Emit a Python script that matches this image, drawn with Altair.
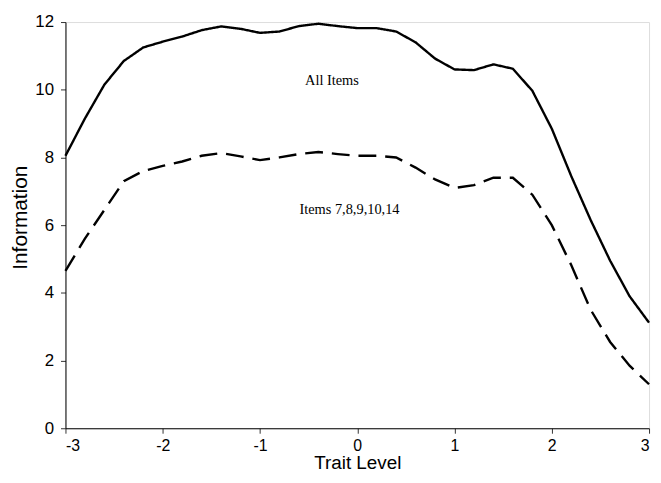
import altair as alt
import pandas as pd

trait = [-3.0, -2.8, -2.6, -2.4, -2.2, -2.0, -1.8, -1.6, -1.4, -1.2, -1.0,
         -0.8, -0.6, -0.4, -0.2, 0.0, 0.2, 0.4, 0.6, 0.8, 1.0,
         1.2, 1.4, 1.6, 1.8, 2.0, 2.2, 2.4, 2.6, 2.8, 3.0]
all_items = [8.05, 9.15, 10.15, 10.85, 11.25, 11.42, 11.57, 11.76, 11.87, 11.8, 11.68,
             11.72, 11.88, 11.95, 11.88, 11.82, 11.82, 11.72, 11.4, 10.92, 10.6,
             10.58, 10.75, 10.62, 9.97, 8.85, 7.45, 6.15, 4.95, 3.9, 3.12]
items_sub = [4.65, 5.6, 6.45, 7.3, 7.6, 7.75, 7.88, 8.05, 8.13, 8.03, 7.92,
             8.0, 8.1, 8.16, 8.1, 8.05, 8.05, 8.0, 7.7, 7.35, 7.1,
             7.18, 7.4, 7.4, 6.9, 6.0, 4.82, 3.5, 2.55, 1.85, 1.3]
series_names = ["All Items", "Items 7,8,9,10,14"]

label_text = ["All Items", "Items 7,8,9,10,14"]
label_x = [-0.26, -0.08]
label_y = [10.25, 6.45]

rows = []
for t, a, b in zip(trait, all_items, items_sub):
    rows.append({"trait": t, "info": a, "series": series_names[0]})
    rows.append({"trait": t, "info": b, "series": series_names[1]})
df = pd.DataFrame(rows)
labels = pd.DataFrame({"text": label_text, "x": label_x, "y": label_y})

xscale = alt.Scale(domain=[-3, 3], nice=False, zero=False)
yscale = alt.Scale(domain=[0, 12], nice=False)

lines = alt.Chart(df).mark_line(color="black", strokeWidth=2.4).encode(
    x=alt.X("trait:Q", scale=xscale,
            axis=alt.Axis(title="Trait Level", values=[-3, -2, -1, 0, 1, 2, 3],
                          labelExpr="'' + datum.value",
                          labelFontSize=16, titleFontSize=19,
                          titleFontWeight="normal", tickSize=5, labelPadding=4,
                          titlePadding=1, grid=False, domainColor="black",
                          tickColor="#333333", labelColor="black", titleColor="black",
                          labelFont="Liberation Sans", titleFont="Liberation Sans")),
    y=alt.Y("info:Q", scale=yscale,
            axis=alt.Axis(title="Information", values=[0, 2, 4, 6, 8, 10, 12],
                          labelFontSize=17, titleFontSize=21, titleY=197,
                          titleFontWeight="normal", tickSize=5, labelPadding=7,
                          titlePadding=4, grid=False, domainColor="black",
                          tickColor="#333333", labelColor="black", titleColor="black",
                          labelFont="Liberation Sans", titleFont="Liberation Sans")),
    strokeDash=alt.StrokeDash("series:N",
                              scale=alt.Scale(domain=series_names, range=[[1, 0], [18, 9]]),
                              legend=None),
    detail="series:N",
)

texts = alt.Chart(labels).mark_text(font="Liberation Serif", fontSize=14.5, color="black",
                                    align="center", baseline="middle").encode(
    x=alt.X("x:Q", scale=xscale),
    y=alt.Y("y:Q", scale=yscale),
    text="text:N",
)

chart = alt.layer(lines, texts).properties(
    width=589, height=410,
    autosize=alt.AutoSizeParams(type="none"),
    padding={"left": 58, "top": 12, "right": 4, "bottom": 45},
).configure_view(stroke=None).configure(background="white")

chart.save("out.html", embed_options={"renderer": "svg", "actions": False})
